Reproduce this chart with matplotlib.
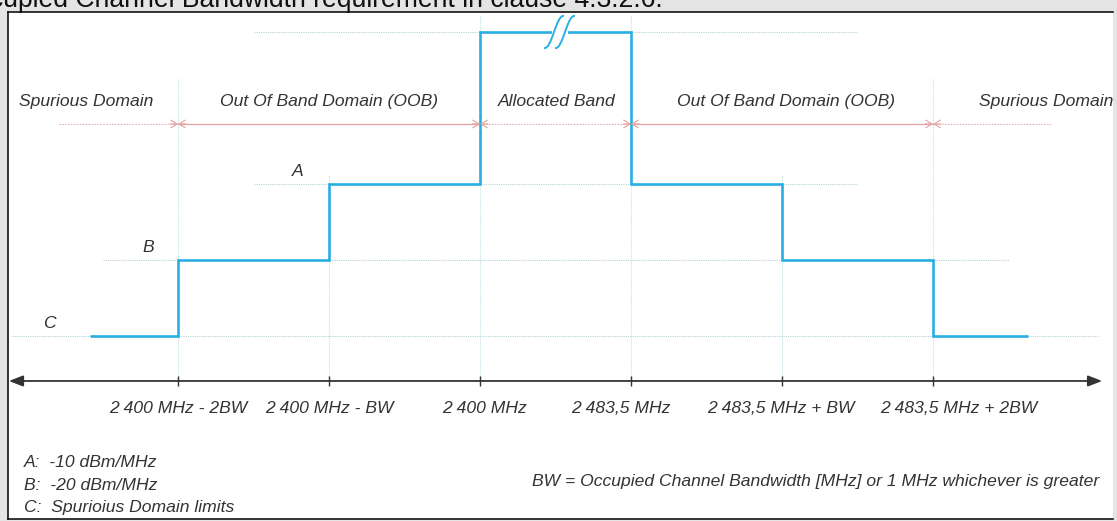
import matplotlib
matplotlib.use("Agg")
import matplotlib.pyplot as plt
from matplotlib.path import Path
from matplotlib.patches import PathPatch

# frequency positions in units of BW, 0 = 2 400 MHz, 1 = 2 483,5 MHz
tick_pos = [-2, -1, 0, 1, 2, 3]
tick_labels = ["2 400 MHz - 2BW", "2 400 MHz - BW", "2 400 MHz",
               "2 483,5 MHz", "2 483,5 MHz + BW", "2 483,5 MHz + 2BW"]
tick_label_x = [-2.0, -1.0, 0.03, 0.93, 1.99, 3.17]

# mask levels: C = 0, B = 1, A = 2, in-band (broken) = 4
edges = [-2.58, -2, -1, 0, 1, 2, 3, 3.63]
levels = [0, 1, 2, 4, 2, 1, 0]

level_names = ["A", "B", "C"]
level_vals = [2, 1, 0]
level_label_x = [-1.21, -2.2, -2.85]

guide_levels = [4, 2, 1, 0]
guide_half = [2.0, 2.0, 3.0, 3.6]
vline_tops = [3.39, 2.13, 4.24, 4.22, 2.13, 3.39]

domain_names = ["Spurious Domain", "Out Of Band Domain (OOB)", "Allocated Band",
                "Out Of Band Domain (OOB)", "Spurious Domain"]
domain_spans = [(-2.79, -2), (-2, 0), (0, 1), (1, 3), (3, 3.79)]
domain_label_x = [-2.61, -1.0, 0.51, 2.03, 3.75]
domain_solid = [False, True, False, True, False]

legend_lines = ["A:  -10 dBm/MHz", "B:  -20 dBm/MHz", "C:  Spurioius Domain limits"]
bw_note = "BW = Occupied Channel Bandwidth [MHz] or 1 MHz whichever is greater"
title = "Occupied Channel Bandwidth requirement in clause 4.3.2.6."

blue = "#29aee3"
guide = "#b7d2d8"
red = "#e2a2a2"
txt = "#333333"
W, H = 1117, 521

fig = plt.figure(figsize=(W / 100, H / 100), dpi=100, facecolor="#e4e4e4")
ax = fig.add_axes([8 / W, 2 / H, 1105 / W, 507 / H])
ax.set_facecolor("white")
ax.set_xlim(-3.126, 4.192)
ax.set_ylim(-2.408, 4.263)
ax.set_xticks([])
ax.set_yticks([])
for s in ["top", "left", "bottom"]:
    ax.spines[s].set_color("black")
    ax.spines[s].set_linewidth(1.1)
ax.spines["right"].set_visible(False)

px_u = 1105 / (4.192 + 3.126)
px_v = 507 / (4.263 + 2.408)

font = dict(family=["Liberation Sans", "DejaVu Sans"], style="italic", color=txt, fontsize=12.6)

# dotted guides
for lv, hw in zip(guide_levels, guide_half):
    ax.plot([0.5 - hw, 0.5 + hw], [lv, lv], ls=(0, (1, 1)), color=guide, lw=0.8, zorder=1)
axis_y = -0.592
for x, top in zip(tick_pos, vline_tops):
    ax.plot([x, x], [axis_y, top], ls=(0, (1, 1)), color="#bfe2ea", lw=0.8, zorder=1)

# mask
ax.stairs(levels, edges, baseline=None, color=blue, lw=1.9, zorder=3)

# break mark on the in-band level
cx = (tick_pos[2] + tick_pos[3]) / 2 + 4 / px_u
ax.plot([cx - 6 / px_u, cx + 6 / px_u], [4, 4], color="white", lw=3, zorder=4)
for off in [-5.5, 5.5]:
    pts = [(-10, -16), (-2, -18), (2, 18), (10, 16)]
    verts = [(cx + (off + dx) / px_u, 4 + dy / px_v) for dx, dy in pts]
    path = Path(verts, [Path.MOVETO, Path.CURVE4, Path.CURVE4, Path.CURVE4])
    ax.add_patch(PathPatch(path, fill=False, edgecolor=blue, lw=1.4, zorder=5))

# frequency axis
ax.annotate("", xy=(4.12, axis_y), xytext=(-3.12, axis_y),
            arrowprops=dict(arrowstyle="<|-|>,head_length=0.85,head_width=0.33",
                            color="#333333", lw=1.3, shrinkA=0, shrinkB=0,
                            mutation_scale=10), zorder=6)
ax.plot(tick_pos, [axis_y] * len(tick_pos), ls="none", marker="|",
        markersize=7, color="#333333", mew=1.0, zorder=6)
for x, lab in zip(tick_label_x, tick_labels):
    ax.text(x, -0.96, lab, ha="center", va="center", **font)

# domain arrows
arr_y = 2.79
head = dict(arrowstyle="->,head_length=0.45,head_width=0.28", color=red, lw=0.8,
            shrinkA=0, shrinkB=0, mutation_scale=10)
for (a, b), solid, name, lx in zip(domain_spans, domain_solid, domain_names, domain_label_x):
    ax.plot([a, b], [arr_y, arr_y], color=red, lw=0.9 if solid else 0.7,
            ls="-" if solid else (0, (1.5, 1.5)), zorder=2)
    if a in tick_pos:
        ax.annotate("", xy=(a, arr_y), xytext=(a + 8 / px_u, arr_y), arrowprops=head)
    if b in tick_pos:
        ax.annotate("", xy=(b, arr_y), xytext=(b - 8 / px_u, arr_y), arrowprops=head)
    ax.text(lx, 3.08, name, ha="center", va="center", clip_on=True, **font)

for name, lv, lx in zip(level_names, level_vals, level_label_x):
    ax.text(lx, lv + 0.17, name, ha="center", va="center", **font)

for i, line in enumerate(legend_lines):
    ax.text(-3.02, -1.67 - 0.295 * i, line, ha="left", va="center", **font)
ax.text(4.10, -1.91, bw_note, ha="right", va="center", **font)

fig.text(663 / W, 1 - 7 / H, title, ha="right", va="baseline", fontsize=19.1,
         family=["Liberation Sans", "DejaVu Sans"], color="#111111")

fig.savefig("out.png", dpi=100, facecolor=fig.get_facecolor())
